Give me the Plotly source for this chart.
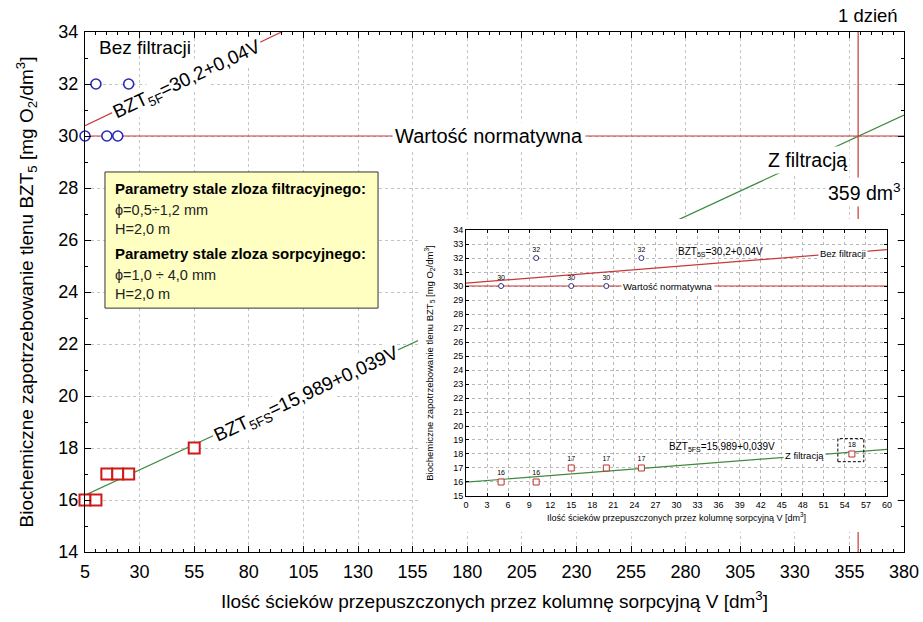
import base64
import struct
import zlib
import plotly.graph_objects as go

# ---------------- data ----------------
v_no_filter = [5, 10, 15, 20, 25]
bzt_no_filter = [30, 32, 30, 30, 32]
v_filter = [5, 10, 15, 20, 25, 55]
bzt_filter = [16, 16, 17, 17, 17, 18]

norm_value = 30           # Wartość normatywna
day_volume = 359          # 1 dzień -> 359 dm3
nf_intercept, nf_slope = 30.2, 0.04      # BZT5F = 30,2 + 0,04V
fs_intercept, fs_slope = 15.989, 0.039   # BZT5FS = 15,989 + 0,039V

main_x_range = [5, 380]
main_y_range = [14, 34]
main_x_ticks = [5, 30, 55, 80, 105, 130, 155, 180, 205, 230, 255, 280, 305, 330, 355, 380]
main_y_ticks = [14, 16, 18, 20, 22, 24, 26, 28, 30, 32, 34]

inset_x_range = [0, 60]
inset_y_range = [15, 34]
inset_x_ticks = list(range(0, 61, 3))
inset_y_ticks = list(range(15, 35))

FONT = "Liberation Sans, Arial, sans-serif"
RED = "#c83838"
GREEN = "#3f8a3f"
BLUE = "#2a2ab8"
SQRED = "#d01818"


def fit(a, b, xs):
    return [a + b * x for x in xs]


def white_png(w=4, h=4):
    raw = b"".join(b"\x00" + b"\xff\xff\xff" * w for _ in range(h))

    def chunk(t, d):
        return struct.pack(">I", len(d)) + t + d + struct.pack(">I", zlib.crc32(t + d) & 0xFFFFFFFF)

    png = (b"\x89PNG\r\n\x1a\n"
           + chunk(b"IHDR", struct.pack(">IIBBBBB", w, h, 8, 2, 0, 0, 0))
           + chunk(b"IDAT", zlib.compress(raw))
           + chunk(b"IEND", b""))
    return "data:image/png;base64," + base64.b64encode(png).decode()


fig = go.Figure()

# ---------------- main chart ----------------
fig.add_trace(go.Scatter(x=main_x_range, y=[norm_value] * 2, mode="lines",
                         line=dict(color=RED, width=1.2), xaxis="x", yaxis="y"))
fig.add_trace(go.Scatter(x=main_x_range, y=fit(nf_intercept, nf_slope, main_x_range), mode="lines",
                         line=dict(color=RED, width=1.2), xaxis="x", yaxis="y"))
fig.add_trace(go.Scatter(x=main_x_range, y=fit(fs_intercept, fs_slope, main_x_range), mode="lines",
                         line=dict(color=GREEN, width=1.2), xaxis="x", yaxis="y"))
fig.add_trace(go.Scatter(x=[day_volume] * 2, y=main_y_range, mode="lines",
                         line=dict(color=RED, width=1.2), xaxis="x", yaxis="y"))
fig.add_trace(go.Scatter(x=v_no_filter, y=bzt_no_filter, mode="markers",
                         marker=dict(symbol="circle", size=10, color="white",
                                     line=dict(color=BLUE, width=1.6)),
                         cliponaxis=False, xaxis="x", yaxis="y"))
fig.add_trace(go.Scatter(x=v_filter, y=bzt_filter, mode="markers",
                         marker=dict(symbol="square", size=11, color="white",
                                     line=dict(color=SQRED, width=2)),
                         cliponaxis=False, xaxis="x", yaxis="y"))

# ---------------- inset chart ----------------
fig.add_trace(go.Scatter(x=inset_x_range, y=[norm_value] * 2, mode="lines",
                         line=dict(color=RED, width=1.2), xaxis="x2", yaxis="y2"))
fig.add_trace(go.Scatter(x=inset_x_range, y=fit(nf_intercept, nf_slope, inset_x_range), mode="lines",
                         line=dict(color=RED, width=1.2), xaxis="x2", yaxis="y2"))
fig.add_trace(go.Scatter(x=inset_x_range, y=fit(fs_intercept, fs_slope, inset_x_range), mode="lines",
                         line=dict(color=GREEN, width=1.2), xaxis="x2", yaxis="y2"))
fig.add_trace(go.Scatter(x=v_no_filter, y=bzt_no_filter, mode="markers+text",
                         text=[str(v) for v in bzt_no_filter], textposition="top center",
                         textfont=dict(size=7, family=FONT, color="black"),
                         marker=dict(symbol="circle", size=5, color="white",
                                     line=dict(color="#303088", width=1)),
                         xaxis="x2", yaxis="y2"))
fig.add_trace(go.Scatter(x=v_filter, y=bzt_filter, mode="markers+text",
                         text=[str(v) for v in bzt_filter], textposition="top center",
                         textfont=dict(size=7, family=FONT, color="black"),
                         marker=dict(symbol="square", size=6, color="white",
                                     line=dict(color="#c03030", width=1)),
                         xaxis="x2", yaxis="y2"))

grid_main = dict(showgrid=True, gridcolor="#c4c4c4", griddash="dot", gridwidth=1)
axis_common = dict(showline=True, linecolor="black", linewidth=1, mirror="ticks",
                   ticks="inside", tickcolor="black", zeroline=False, automargin=False)

fig.update_layout(
    width=923, height=622,
    margin=dict(l=85, r=19, t=32, b=70),
    paper_bgcolor="white", plot_bgcolor="white",
    showlegend=False,
    font=dict(family=FONT, color="black"),
    xaxis=dict(domain=[0, 1], anchor="y", range=main_x_range, tickvals=main_x_ticks,
               ticklen=6, tickfont=dict(size=18, family=FONT), ticklabelstandoff=3,
               minor=dict(ticks="inside", ticklen=3, dtick=5, tick0=5, tickcolor="black", showgrid=False),
               title=dict(text="Ilość ścieków przepuszczonych przez kolumnę sorpcyjną V [dm<sup>3</sup>]",
                          font=dict(size=19, family=FONT), standoff=14),
               **grid_main, **axis_common),
    yaxis=dict(domain=[0, 1], anchor="x", range=main_y_range, tickvals=main_y_ticks,
               ticklen=6, tickfont=dict(size=18, family=FONT), ticklabelstandoff=2,
               minor=dict(ticks="inside", ticklen=3, dtick=1, tick0=14, tickcolor="black", showgrid=False),
               title=dict(text="Biochemiczne zapotrzebowanie tlenu BZT<sub>5</sub> [mg O<sub>2</sub>/dm<sup>3</sup>]",
                          font=dict(size=19, family=FONT), standoff=19),
               **grid_main, **axis_common),
    xaxis2=dict(domain=[0.4652, 0.9792], anchor="y2", range=inset_x_range, tickvals=inset_x_ticks,
                ticklen=3, tickfont=dict(size=9, family=FONT),
                showgrid=True, gridcolor="#b8b8b8", griddash="dot", gridwidth=1,
                title=dict(text="Ilość ścieków przepuszczonych przez kolumnę sorpcyjną V [dm<sup>3</sup>]",
                           font=dict(size=9, family=FONT), standoff=5),
                **axis_common),
    yaxis2=dict(domain=[0.1077, 0.6192], anchor="x2", range=inset_y_range, tickvals=inset_y_ticks,
                ticklen=3, tickfont=dict(size=9, family=FONT),
                showgrid=True, gridcolor="#b8b8b8", griddash="dot", gridwidth=1,
                title=dict(text="Biochemiczne zapotrzebowanie tlenu BZT<sub>5</sub> [mg O<sub>2</sub>/dm<sup>3</sup>]",
                           font=dict(size=9.5, family=FONT), standoff=17),
                **axis_common),
)

# white background of the inset (drawn in the inset subplot layer, above the main chart)
fig.add_layout_image(dict(source=white_png(), xref="x2 domain", yref="y2 domain",
                          x=-0.114, y=1.0414, sizex=1.138, sizey=1.1767,
                          xanchor="left", yanchor="top", sizing="stretch", layer="below"))

# dashed box around the last inset point
fig.add_shape(type="rect", xref="x2", yref="y2", x0=53.0, x1=56.7, y0=17.45, y1=19.1,
              line=dict(color="black", width=1, dash="3px,2px"), layer="above")

# yellow parameter box
fig.add_shape(type="rect", xref="paper", yref="paper", x0=0.0244, x1=0.3578, y0=0.469, y1=0.7308,
              fillcolor="#ffffc2", line=dict(color="#333333", width=1), layer="above")

ann = []
# main chart texts
ann.append(dict(xref="x", yref="y", x=10.5, y=33.42, text="Bez filtracji", xanchor="left", yanchor="middle",
                showarrow=False, font=dict(size=19)))
ann.append(dict(xref="x", yref="y", x=52, y=32.15, text="BZT<sub>5F</sub>=30,2+0,04V", textangle=-25,
                showarrow=False, font=dict(size=19), bgcolor="white", borderpad=1))
ann.append(dict(xref="x", yref="y", x=106.5, y=20.05, text="BZT<sub>5FS</sub>=15,989+0,039V", textangle=-25,
                showarrow=False, font=dict(size=19), bgcolor="white", borderpad=1))
ann.append(dict(xref="x", yref="y", x=190, y=norm_value, text="Wartość normatywna",
                showarrow=False, font=dict(size=20), bgcolor="white", borderpad=2))
ann.append(dict(xref="x", yref="y", x=336, y=29.09, text="Z filtracją",
                showarrow=False, font=dict(size=19.5), bgcolor="white", borderpad=2))
ann.append(dict(xref="x", yref="y", x=day_volume + 3, y=27.85, text="359 dm<sup>3</sup>",
                showarrow=False, font=dict(size=19.5), bgcolor="white", borderpad=2))
ann.append(dict(xref="paper", yref="paper", x=0.956, y=1.032, xanchor="center", yanchor="middle",
                text="1 dzień", showarrow=False, font=dict(size=18.5)))

# parameter box texts
ann.append(dict(xref="paper", yref="paper", x=0.0342, y=0.700, xanchor="left", yanchor="middle",
                text="<b>Parametry stale zloza filtracyjnego:</b>", showarrow=False, font=dict(size=15)))
ann.append(dict(xref="paper", yref="paper", x=0.0342, y=0.6385, xanchor="left", yanchor="middle",
                align="left", text="ϕ=0,5÷1,2 mm<br>H=2,0 m", showarrow=False,
                font=dict(size=14.5, color="#222222")))
ann.append(dict(xref="paper", yref="paper", x=0.0342, y=0.5731, xanchor="left", yanchor="middle",
                text="<b>Parametry stale zloza sorpcyjnego:</b>", showarrow=False, font=dict(size=15)))
ann.append(dict(xref="paper", yref="paper", x=0.0342, y=0.5144, xanchor="left", yanchor="middle",
                align="left", text="ϕ=1,0 ÷ 4,0 mm<br>H=2,0 m", showarrow=False,
                font=dict(size=14.5, color="#222222")))

# inset texts
ann.append(dict(xref="x2", yref="y2", x=28.8, y=norm_value, text="Wartość normatywna",
                showarrow=False, font=dict(size=9.5), bgcolor="white", borderpad=1))
ann.append(dict(xref="x2", yref="y2", x=53.8, y=32.35, text="Bez filtracji",
                showarrow=False, font=dict(size=9.5), bgcolor="white", borderpad=1))
ann.append(dict(xref="x2", yref="y2", x=36.3, y=32.4, text="BZT<sub>5S</sub>=30,2+0,04V",
                showarrow=False, font=dict(size=10)))
ann.append(dict(xref="x2", yref="y2", x=36.5, y=18.5, text="BZT<sub>5FS</sub>=15,989+0,039V",
                showarrow=False, font=dict(size=10)))
ann.append(dict(xref="x2", yref="y2", x=48.3, y=17.9, text="Z filtracją",
                showarrow=False, font=dict(size=9.5), bgcolor="white", borderpad=1))

fig.update_layout(annotations=ann)

fig.write_html("out.html")
